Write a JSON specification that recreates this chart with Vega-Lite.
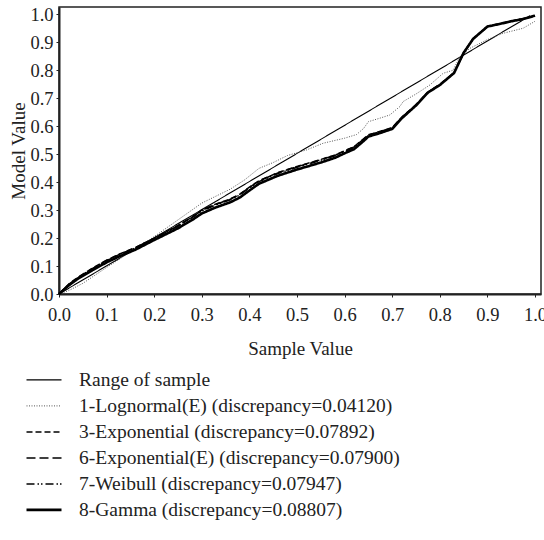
{
  "$schema": "https://vega.github.io/schema/vega-lite/v6.json",
  "width": 482,
  "height": 287,
  "autosize": "none",
  "padding": {"left": 59, "top": 7, "right": 3, "bottom": 246},
  "background": "white",
  "config": {
    "view": {"stroke": "#222", "strokeWidth": 1.5},
    "font": "Liberation Serif",
    "axis": {"grid": false, "labelFont": "Liberation Serif", "labelFontSize": 18.5, "labelColor": "#222", "titleFont": "Liberation Serif", "titleFontSize": 19, "titleFontWeight": "normal", "titleColor": "#222", "tickSize": 3, "tickColor": "#222", "domainColor": "#222", "domainWidth": 2, "labelFlush": false},
    "legend": {"labelFont": "Liberation Serif"}
  },
  "data": {"values": [
    {"series": "Range of sample", "x": 0, "y": 0},
    {"series": "Range of sample", "x": 0.99, "y": 0.995},

    {"series": "1-Lognormal(E) (discrepancy=0.04120)", "x": 0, "y": 0},
    {"series": "1-Lognormal(E) (discrepancy=0.04120)", "x": 0.02, "y": 0.012},
    {"series": "1-Lognormal(E) (discrepancy=0.04120)", "x": 0.05, "y": 0.038},
    {"series": "1-Lognormal(E) (discrepancy=0.04120)", "x": 0.1, "y": 0.095},
    {"series": "1-Lognormal(E) (discrepancy=0.04120)", "x": 0.15, "y": 0.15},
    {"series": "1-Lognormal(E) (discrepancy=0.04120)", "x": 0.2, "y": 0.205},
    {"series": "1-Lognormal(E) (discrepancy=0.04120)", "x": 0.25, "y": 0.265},
    {"series": "1-Lognormal(E) (discrepancy=0.04120)", "x": 0.3, "y": 0.325},
    {"series": "1-Lognormal(E) (discrepancy=0.04120)", "x": 0.33, "y": 0.35},
    {"series": "1-Lognormal(E) (discrepancy=0.04120)", "x": 0.36, "y": 0.375},
    {"series": "1-Lognormal(E) (discrepancy=0.04120)", "x": 0.39, "y": 0.408},
    {"series": "1-Lognormal(E) (discrepancy=0.04120)", "x": 0.42, "y": 0.449},
    {"series": "1-Lognormal(E) (discrepancy=0.04120)", "x": 0.45, "y": 0.47},
    {"series": "1-Lognormal(E) (discrepancy=0.04120)", "x": 0.48, "y": 0.495},
    {"series": "1-Lognormal(E) (discrepancy=0.04120)", "x": 0.52, "y": 0.515},
    {"series": "1-Lognormal(E) (discrepancy=0.04120)", "x": 0.555, "y": 0.539},
    {"series": "1-Lognormal(E) (discrepancy=0.04120)", "x": 0.6, "y": 0.557},
    {"series": "1-Lognormal(E) (discrepancy=0.04120)", "x": 0.625, "y": 0.57},
    {"series": "1-Lognormal(E) (discrepancy=0.04120)", "x": 0.64, "y": 0.592},
    {"series": "1-Lognormal(E) (discrepancy=0.04120)", "x": 0.65, "y": 0.616},
    {"series": "1-Lognormal(E) (discrepancy=0.04120)", "x": 0.673, "y": 0.628},
    {"series": "1-Lognormal(E) (discrepancy=0.04120)", "x": 0.695, "y": 0.64},
    {"series": "1-Lognormal(E) (discrepancy=0.04120)", "x": 0.716, "y": 0.67},
    {"series": "1-Lognormal(E) (discrepancy=0.04120)", "x": 0.723, "y": 0.688},
    {"series": "1-Lognormal(E) (discrepancy=0.04120)", "x": 0.75, "y": 0.715},
    {"series": "1-Lognormal(E) (discrepancy=0.04120)", "x": 0.779, "y": 0.747},
    {"series": "1-Lognormal(E) (discrepancy=0.04120)", "x": 0.807, "y": 0.789},
    {"series": "1-Lognormal(E) (discrepancy=0.04120)", "x": 0.828, "y": 0.8},
    {"series": "1-Lognormal(E) (discrepancy=0.04120)", "x": 0.842, "y": 0.848},
    {"series": "1-Lognormal(E) (discrepancy=0.04120)", "x": 0.863, "y": 0.878},
    {"series": "1-Lognormal(E) (discrepancy=0.04120)", "x": 0.898, "y": 0.908},
    {"series": "1-Lognormal(E) (discrepancy=0.04120)", "x": 0.933, "y": 0.932},
    {"series": "1-Lognormal(E) (discrepancy=0.04120)", "x": 0.975, "y": 0.95},
    {"series": "1-Lognormal(E) (discrepancy=0.04120)", "x": 1.0, "y": 0.975},

    {"series": "3-Exponential (discrepancy=0.07892)", "x": 0, "y": 0},
    {"series": "3-Exponential (discrepancy=0.07892)", "x": 0.02, "y": 0.035},
    {"series": "3-Exponential (discrepancy=0.07892)", "x": 0.04, "y": 0.06},
    {"series": "3-Exponential (discrepancy=0.07892)", "x": 0.07, "y": 0.092},
    {"series": "3-Exponential (discrepancy=0.07892)", "x": 0.1, "y": 0.121},
    {"series": "3-Exponential (discrepancy=0.07892)", "x": 0.13, "y": 0.145},
    {"series": "3-Exponential (discrepancy=0.07892)", "x": 0.16, "y": 0.166},
    {"series": "3-Exponential (discrepancy=0.07892)", "x": 0.2, "y": 0.2},
    {"series": "3-Exponential (discrepancy=0.07892)", "x": 0.25, "y": 0.245},
    {"series": "3-Exponential (discrepancy=0.07892)", "x": 0.28, "y": 0.276},
    {"series": "3-Exponential (discrepancy=0.07892)", "x": 0.3, "y": 0.3},
    {"series": "3-Exponential (discrepancy=0.07892)", "x": 0.33, "y": 0.322},
    {"series": "3-Exponential (discrepancy=0.07892)", "x": 0.36, "y": 0.34},
    {"series": "3-Exponential (discrepancy=0.07892)", "x": 0.38, "y": 0.357},
    {"series": "3-Exponential (discrepancy=0.07892)", "x": 0.4, "y": 0.382},
    {"series": "3-Exponential (discrepancy=0.07892)", "x": 0.42, "y": 0.405},
    {"series": "3-Exponential (discrepancy=0.07892)", "x": 0.46, "y": 0.434},
    {"series": "3-Exponential (discrepancy=0.07892)", "x": 0.5, "y": 0.456},
    {"series": "3-Exponential (discrepancy=0.07892)", "x": 0.52, "y": 0.466},
    {"series": "3-Exponential (discrepancy=0.07892)", "x": 0.55, "y": 0.481},
    {"series": "3-Exponential (discrepancy=0.07892)", "x": 0.58, "y": 0.497},
    {"series": "3-Exponential (discrepancy=0.07892)", "x": 0.6, "y": 0.512},
    {"series": "3-Exponential (discrepancy=0.07892)", "x": 0.62, "y": 0.527},
    {"series": "3-Exponential (discrepancy=0.07892)", "x": 0.64, "y": 0.555},
    {"series": "3-Exponential (discrepancy=0.07892)", "x": 0.65, "y": 0.569},
    {"series": "3-Exponential (discrepancy=0.07892)", "x": 0.67, "y": 0.579},
    {"series": "3-Exponential (discrepancy=0.07892)", "x": 0.7, "y": 0.595},
    {"series": "3-Exponential (discrepancy=0.07892)", "x": 0.72, "y": 0.632},
    {"series": "3-Exponential (discrepancy=0.07892)", "x": 0.75, "y": 0.677},
    {"series": "3-Exponential (discrepancy=0.07892)", "x": 0.775, "y": 0.722},
    {"series": "3-Exponential (discrepancy=0.07892)", "x": 0.8, "y": 0.749},
    {"series": "3-Exponential (discrepancy=0.07892)", "x": 0.83, "y": 0.792},
    {"series": "3-Exponential (discrepancy=0.07892)", "x": 0.85, "y": 0.863},
    {"series": "3-Exponential (discrepancy=0.07892)", "x": 0.87, "y": 0.913},
    {"series": "3-Exponential (discrepancy=0.07892)", "x": 0.9, "y": 0.957},
    {"series": "3-Exponential (discrepancy=0.07892)", "x": 0.93, "y": 0.968},
    {"series": "3-Exponential (discrepancy=0.07892)", "x": 0.95, "y": 0.976},
    {"series": "3-Exponential (discrepancy=0.07892)", "x": 0.975, "y": 0.984},
    {"series": "3-Exponential (discrepancy=0.07892)", "x": 1.0, "y": 0.995},

    {"series": "6-Exponential(E) (discrepancy=0.07900)", "x": 0, "y": 0},
    {"series": "6-Exponential(E) (discrepancy=0.07900)", "x": 0.02, "y": 0.034},
    {"series": "6-Exponential(E) (discrepancy=0.07900)", "x": 0.04, "y": 0.059},
    {"series": "6-Exponential(E) (discrepancy=0.07900)", "x": 0.07, "y": 0.091},
    {"series": "6-Exponential(E) (discrepancy=0.07900)", "x": 0.1, "y": 0.12},
    {"series": "6-Exponential(E) (discrepancy=0.07900)", "x": 0.13, "y": 0.144},
    {"series": "6-Exponential(E) (discrepancy=0.07900)", "x": 0.16, "y": 0.165},
    {"series": "6-Exponential(E) (discrepancy=0.07900)", "x": 0.2, "y": 0.199},
    {"series": "6-Exponential(E) (discrepancy=0.07900)", "x": 0.25, "y": 0.244},
    {"series": "6-Exponential(E) (discrepancy=0.07900)", "x": 0.28, "y": 0.275},
    {"series": "6-Exponential(E) (discrepancy=0.07900)", "x": 0.3, "y": 0.299},
    {"series": "6-Exponential(E) (discrepancy=0.07900)", "x": 0.33, "y": 0.321},
    {"series": "6-Exponential(E) (discrepancy=0.07900)", "x": 0.36, "y": 0.339},
    {"series": "6-Exponential(E) (discrepancy=0.07900)", "x": 0.38, "y": 0.356},
    {"series": "6-Exponential(E) (discrepancy=0.07900)", "x": 0.4, "y": 0.381},
    {"series": "6-Exponential(E) (discrepancy=0.07900)", "x": 0.42, "y": 0.404},
    {"series": "6-Exponential(E) (discrepancy=0.07900)", "x": 0.46, "y": 0.433},
    {"series": "6-Exponential(E) (discrepancy=0.07900)", "x": 0.5, "y": 0.455},
    {"series": "6-Exponential(E) (discrepancy=0.07900)", "x": 0.52, "y": 0.465},
    {"series": "6-Exponential(E) (discrepancy=0.07900)", "x": 0.55, "y": 0.48},
    {"series": "6-Exponential(E) (discrepancy=0.07900)", "x": 0.58, "y": 0.496},
    {"series": "6-Exponential(E) (discrepancy=0.07900)", "x": 0.6, "y": 0.511},
    {"series": "6-Exponential(E) (discrepancy=0.07900)", "x": 0.62, "y": 0.526},
    {"series": "6-Exponential(E) (discrepancy=0.07900)", "x": 0.64, "y": 0.554},
    {"series": "6-Exponential(E) (discrepancy=0.07900)", "x": 0.65, "y": 0.568},
    {"series": "6-Exponential(E) (discrepancy=0.07900)", "x": 0.67, "y": 0.578},
    {"series": "6-Exponential(E) (discrepancy=0.07900)", "x": 0.7, "y": 0.594},
    {"series": "6-Exponential(E) (discrepancy=0.07900)", "x": 0.72, "y": 0.631},
    {"series": "6-Exponential(E) (discrepancy=0.07900)", "x": 0.75, "y": 0.676},
    {"series": "6-Exponential(E) (discrepancy=0.07900)", "x": 0.775, "y": 0.721},
    {"series": "6-Exponential(E) (discrepancy=0.07900)", "x": 0.8, "y": 0.748},
    {"series": "6-Exponential(E) (discrepancy=0.07900)", "x": 0.83, "y": 0.791},
    {"series": "6-Exponential(E) (discrepancy=0.07900)", "x": 0.85, "y": 0.862},
    {"series": "6-Exponential(E) (discrepancy=0.07900)", "x": 0.87, "y": 0.912},
    {"series": "6-Exponential(E) (discrepancy=0.07900)", "x": 0.9, "y": 0.956},
    {"series": "6-Exponential(E) (discrepancy=0.07900)", "x": 0.93, "y": 0.967},
    {"series": "6-Exponential(E) (discrepancy=0.07900)", "x": 0.95, "y": 0.975},
    {"series": "6-Exponential(E) (discrepancy=0.07900)", "x": 0.975, "y": 0.983},
    {"series": "6-Exponential(E) (discrepancy=0.07900)", "x": 1.0, "y": 0.995},

    {"series": "7-Weibull (discrepancy=0.07947)", "x": 0, "y": 0},
    {"series": "7-Weibull (discrepancy=0.07947)", "x": 0.02, "y": 0.033},
    {"series": "7-Weibull (discrepancy=0.07947)", "x": 0.04, "y": 0.058},
    {"series": "7-Weibull (discrepancy=0.07947)", "x": 0.07, "y": 0.09},
    {"series": "7-Weibull (discrepancy=0.07947)", "x": 0.1, "y": 0.119},
    {"series": "7-Weibull (discrepancy=0.07947)", "x": 0.13, "y": 0.143},
    {"series": "7-Weibull (discrepancy=0.07947)", "x": 0.16, "y": 0.164},
    {"series": "7-Weibull (discrepancy=0.07947)", "x": 0.2, "y": 0.198},
    {"series": "7-Weibull (discrepancy=0.07947)", "x": 0.25, "y": 0.242},
    {"series": "7-Weibull (discrepancy=0.07947)", "x": 0.28, "y": 0.273},
    {"series": "7-Weibull (discrepancy=0.07947)", "x": 0.3, "y": 0.297},
    {"series": "7-Weibull (discrepancy=0.07947)", "x": 0.33, "y": 0.319},
    {"series": "7-Weibull (discrepancy=0.07947)", "x": 0.36, "y": 0.337},
    {"series": "7-Weibull (discrepancy=0.07947)", "x": 0.38, "y": 0.354},
    {"series": "7-Weibull (discrepancy=0.07947)", "x": 0.4, "y": 0.379},
    {"series": "7-Weibull (discrepancy=0.07947)", "x": 0.42, "y": 0.402},
    {"series": "7-Weibull (discrepancy=0.07947)", "x": 0.46, "y": 0.431},
    {"series": "7-Weibull (discrepancy=0.07947)", "x": 0.5, "y": 0.453},
    {"series": "7-Weibull (discrepancy=0.07947)", "x": 0.52, "y": 0.463},
    {"series": "7-Weibull (discrepancy=0.07947)", "x": 0.55, "y": 0.478},
    {"series": "7-Weibull (discrepancy=0.07947)", "x": 0.58, "y": 0.494},
    {"series": "7-Weibull (discrepancy=0.07947)", "x": 0.6, "y": 0.509},
    {"series": "7-Weibull (discrepancy=0.07947)", "x": 0.62, "y": 0.524},
    {"series": "7-Weibull (discrepancy=0.07947)", "x": 0.64, "y": 0.552},
    {"series": "7-Weibull (discrepancy=0.07947)", "x": 0.65, "y": 0.567},
    {"series": "7-Weibull (discrepancy=0.07947)", "x": 0.67, "y": 0.577},
    {"series": "7-Weibull (discrepancy=0.07947)", "x": 0.7, "y": 0.593},
    {"series": "7-Weibull (discrepancy=0.07947)", "x": 0.72, "y": 0.63},
    {"series": "7-Weibull (discrepancy=0.07947)", "x": 0.75, "y": 0.675},
    {"series": "7-Weibull (discrepancy=0.07947)", "x": 0.775, "y": 0.721},
    {"series": "7-Weibull (discrepancy=0.07947)", "x": 0.8, "y": 0.748},
    {"series": "7-Weibull (discrepancy=0.07947)", "x": 0.83, "y": 0.791},
    {"series": "7-Weibull (discrepancy=0.07947)", "x": 0.85, "y": 0.862},
    {"series": "7-Weibull (discrepancy=0.07947)", "x": 0.87, "y": 0.912},
    {"series": "7-Weibull (discrepancy=0.07947)", "x": 0.9, "y": 0.956},
    {"series": "7-Weibull (discrepancy=0.07947)", "x": 0.93, "y": 0.967},
    {"series": "7-Weibull (discrepancy=0.07947)", "x": 0.95, "y": 0.975},
    {"series": "7-Weibull (discrepancy=0.07947)", "x": 0.975, "y": 0.983},
    {"series": "7-Weibull (discrepancy=0.07947)", "x": 1.0, "y": 0.995},

    {"series": "8-Gamma (discrepancy=0.08807)", "x": 0, "y": 0},
    {"series": "8-Gamma (discrepancy=0.08807)", "x": 0.02, "y": 0.03},
    {"series": "8-Gamma (discrepancy=0.08807)", "x": 0.04, "y": 0.055},
    {"series": "8-Gamma (discrepancy=0.08807)", "x": 0.07, "y": 0.085},
    {"series": "8-Gamma (discrepancy=0.08807)", "x": 0.1, "y": 0.113},
    {"series": "8-Gamma (discrepancy=0.08807)", "x": 0.13, "y": 0.137},
    {"series": "8-Gamma (discrepancy=0.08807)", "x": 0.16, "y": 0.158},
    {"series": "8-Gamma (discrepancy=0.08807)", "x": 0.2, "y": 0.193},
    {"series": "8-Gamma (discrepancy=0.08807)", "x": 0.25, "y": 0.235},
    {"series": "8-Gamma (discrepancy=0.08807)", "x": 0.28, "y": 0.265},
    {"series": "8-Gamma (discrepancy=0.08807)", "x": 0.3, "y": 0.288},
    {"series": "8-Gamma (discrepancy=0.08807)", "x": 0.33, "y": 0.31},
    {"series": "8-Gamma (discrepancy=0.08807)", "x": 0.36, "y": 0.328},
    {"series": "8-Gamma (discrepancy=0.08807)", "x": 0.38, "y": 0.345},
    {"series": "8-Gamma (discrepancy=0.08807)", "x": 0.4, "y": 0.37},
    {"series": "8-Gamma (discrepancy=0.08807)", "x": 0.42, "y": 0.394},
    {"series": "8-Gamma (discrepancy=0.08807)", "x": 0.46, "y": 0.423},
    {"series": "8-Gamma (discrepancy=0.08807)", "x": 0.5, "y": 0.445},
    {"series": "8-Gamma (discrepancy=0.08807)", "x": 0.52, "y": 0.455},
    {"series": "8-Gamma (discrepancy=0.08807)", "x": 0.55, "y": 0.47},
    {"series": "8-Gamma (discrepancy=0.08807)", "x": 0.58, "y": 0.487},
    {"series": "8-Gamma (discrepancy=0.08807)", "x": 0.6, "y": 0.503},
    {"series": "8-Gamma (discrepancy=0.08807)", "x": 0.62, "y": 0.518},
    {"series": "8-Gamma (discrepancy=0.08807)", "x": 0.64, "y": 0.547},
    {"series": "8-Gamma (discrepancy=0.08807)", "x": 0.65, "y": 0.563},
    {"series": "8-Gamma (discrepancy=0.08807)", "x": 0.67, "y": 0.573},
    {"series": "8-Gamma (discrepancy=0.08807)", "x": 0.7, "y": 0.59},
    {"series": "8-Gamma (discrepancy=0.08807)", "x": 0.72, "y": 0.628},
    {"series": "8-Gamma (discrepancy=0.08807)", "x": 0.75, "y": 0.674},
    {"series": "8-Gamma (discrepancy=0.08807)", "x": 0.775, "y": 0.72},
    {"series": "8-Gamma (discrepancy=0.08807)", "x": 0.8, "y": 0.747},
    {"series": "8-Gamma (discrepancy=0.08807)", "x": 0.83, "y": 0.79},
    {"series": "8-Gamma (discrepancy=0.08807)", "x": 0.85, "y": 0.862},
    {"series": "8-Gamma (discrepancy=0.08807)", "x": 0.87, "y": 0.912},
    {"series": "8-Gamma (discrepancy=0.08807)", "x": 0.9, "y": 0.956},
    {"series": "8-Gamma (discrepancy=0.08807)", "x": 0.93, "y": 0.967},
    {"series": "8-Gamma (discrepancy=0.08807)", "x": 0.95, "y": 0.975},
    {"series": "8-Gamma (discrepancy=0.08807)", "x": 0.975, "y": 0.983},
    {"series": "8-Gamma (discrepancy=0.08807)", "x": 1.0, "y": 0.995}
  ]},
  "mark": {"type": "line", "strokeCap": "butt"},
  "encoding": {
    "x": {
      "field": "x", "type": "quantitative",
      "scale": {"domain": [0, 1.0126], "nice": false, "zero": false},
      "axis": {"values": [0, 0.1, 0.2, 0.3, 0.4, 0.5, 0.6, 0.7, 0.8, 0.9, 1.0], "format": ".1f", "title": "Sample Value", "labelPadding": 8, "titlePadding": 16}
    },
    "y": {
      "field": "y", "type": "quantitative",
      "scale": {"domain": [0, 1.026], "nice": false, "zero": false},
      "axis": {"values": [0, 0.1, 0.2, 0.3, 0.4, 0.5, 0.6, 0.7, 0.8, 0.9, 1.0], "format": ".1f", "title": "Model Value", "labelPadding": 3, "titlePadding": 1}
    },
    "color": {
      "field": "series", "type": "nominal",
      "scale": {
        "type": "ordinal",
        "domain": ["Range of sample", "1-Lognormal(E) (discrepancy=0.04120)", "3-Exponential (discrepancy=0.07892)", "6-Exponential(E) (discrepancy=0.07900)", "7-Weibull (discrepancy=0.07947)", "8-Gamma (discrepancy=0.08807)"],
        "range": ["#000000", "#555555", "#000000", "#000000", "#000000", "#000000"]
      },
      "legend": {
        "title": null, "orient": "none", "legendX": -34, "legendY": 360,
        "symbolType": "stroke", "symbolSize": 1225, "labelFontSize": 19.5, "labelColor": "#222",
        "labelOffset": 16, "rowPadding": 0, "clipHeight": 25.8, "padding": 0, "labelLimit": 500
      }
    },
    "strokeDash": {
      "field": "series", "type": "nominal",
      "scale": {
        "type": "ordinal",
        "domain": ["Range of sample", "1-Lognormal(E) (discrepancy=0.04120)", "3-Exponential (discrepancy=0.07892)", "6-Exponential(E) (discrepancy=0.07900)", "7-Weibull (discrepancy=0.07947)", "8-Gamma (discrepancy=0.08807)"],
        "range": [[1, 0], [1, 1.5], [6, 3], [9, 4], [8, 3, 1.5, 2, 1.5, 3], [1, 0]]
      }
    },
    "strokeWidth": {
      "field": "series", "type": "nominal",
      "scale": {
        "type": "ordinal",
        "domain": ["Range of sample", "1-Lognormal(E) (discrepancy=0.04120)", "3-Exponential (discrepancy=0.07892)", "6-Exponential(E) (discrepancy=0.07900)", "7-Weibull (discrepancy=0.07947)", "8-Gamma (discrepancy=0.08807)"],
        "range": [1.1, 1, 1.5, 1.5, 1.5, 2.6]
      }
    }
  }
}
